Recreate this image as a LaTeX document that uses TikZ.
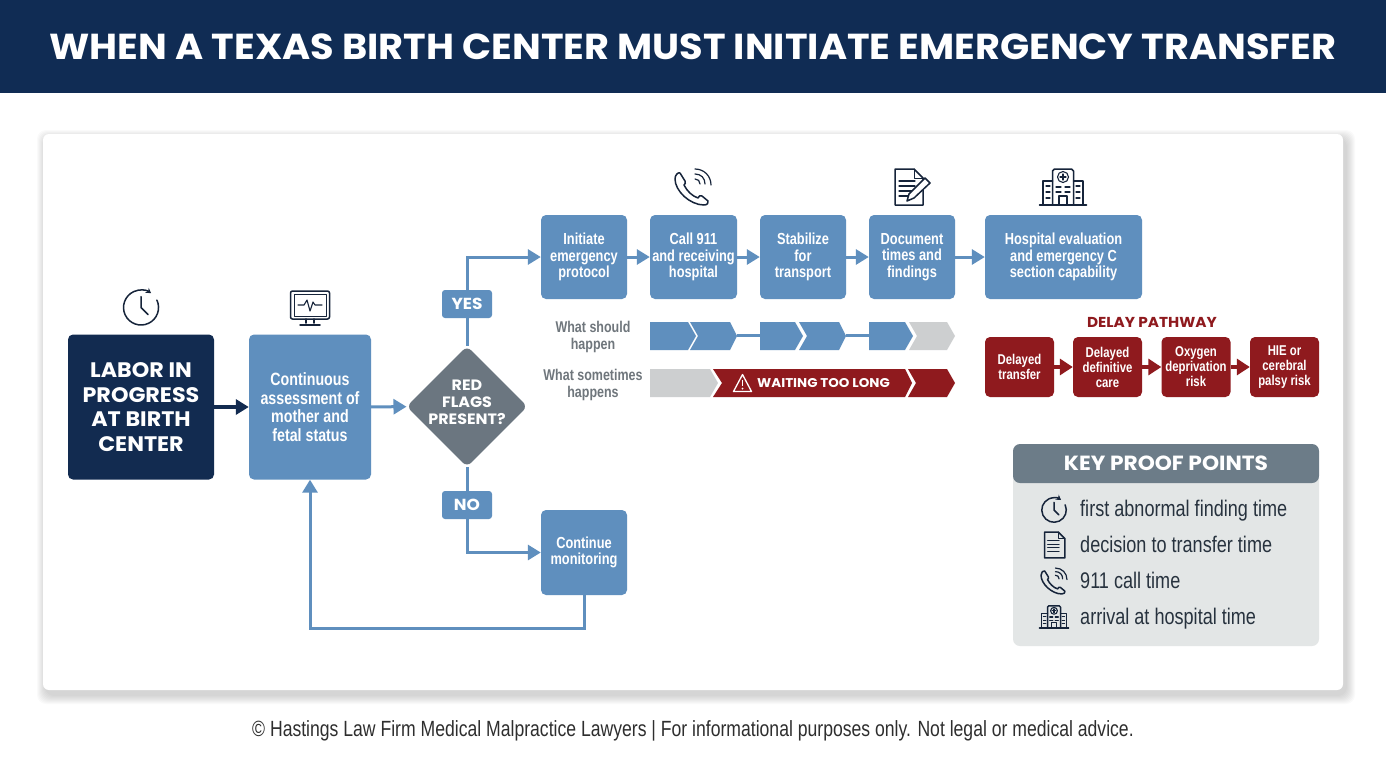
\documentclass[tikz,border=0pt]{standalone}
\usepackage{fontspec}
\setmainfont{Liberation Sans}[FakeStretch=0.8]
\newfontfamily\headfont{Poppins}[FakeStretch=1.06]
\usetikzlibrary{arrows.meta, shapes.geometric}

\definecolor{navybar}{HTML}{102C54}
\definecolor{navybox}{HTML}{122B50}
\definecolor{bluebox}{HTML}{5F8FBE}
\definecolor{slatebox}{HTML}{6B7680}
\definecolor{redbox}{HTML}{8F1A1E}
\definecolor{greychev}{HTML}{CDCFD0}
\definecolor{panelhead}{HTML}{6C7C88}
\definecolor{panelbody}{HTML}{E3E6E6}
\definecolor{inkdark}{HTML}{16243A}
\definecolor{labelgrey}{HTML}{6F767C}
\definecolor{prooftext}{HTML}{27323E}
\definecolor{footertext}{HTML}{2E2E2E}

\tikzset{
  flowbox/.style={rectangle, rounded corners=5pt, inner sep=0pt, align=center, text=white, font=\bfseries},
  stepbox/.style={flowbox, fill=bluebox, minimum height=84pt, font=\bfseries\fontsize{16}{16.7}\selectfont},
  delaybox/.style={flowbox, fill=redbox, minimum width=69pt, minimum height=60pt, font=\bfseries\fontsize{14.2}{15}\selectfont},
  tagbox/.style={rectangle, rounded corners=3pt, fill=bluebox, text=white, inner sep=0pt,
    minimum width=50pt, minimum height=28pt, font=\headfont\bfseries\fontsize{16}{18}\selectfont},
  sidelabel/.style={align=center, inner sep=0pt, text=labelgrey, font=\bfseries\fontsize{15.6}{17}\selectfont},
  prooflabel/.style={anchor=west, inner sep=0pt, text height=16pt, text depth=5pt, text=prooftext, font=\fontsize{22.6}{24}\selectfont},
  bluearrow/.style={draw=bluebox, line width=3pt, -{Triangle[length=13pt,width=15pt]}},
  bluelink/.style={draw=bluebox, line width=3pt},
  redarrow/.style={draw=redbox, line width=4pt, -{Triangle[length=13pt,width=16pt]}},
  iconline/.style={draw=inkdark, line width=1.5pt, line join=round, line cap=round},
  clockicon/.pic={
    \draw[iconline, -{Stealth[length=5pt,width=6pt]}]
      (15.9,-7.4) arc[start angle=-25, end angle=305, radius=17.5];
    \draw[iconline] (0,-11) -- (0,0) -- (7,7);
  },
  monitoricon/.pic={
    \draw[iconline, rounded corners=2pt] (-19.5,-17) rectangle (19.5,11);
    \draw[iconline, line width=1pt] (-16,-13.5) rectangle (16,8);
    \draw[iconline, line width=1.1pt] (-12,-3) -- (-6,-3) -- (-3,-8) -- (0,3) -- (3,-6) -- (5,-3) -- (12,-3);
    \draw[iconline] (-4,11) -- (-4,15) (4,11) -- (4,15) (-10,17) -- (10,17);
  },
  phoneicon/.pic={
    \draw[iconline]
      (-13,-14) -- (-8,-6) .. controls (-7,-4) and (-8,-3) .. (-9,-2)
      .. controls (-6,4) and (-1,9) .. (5,11) .. controls (6,9) and (7,8) .. (9,9)
      -- (15,14) .. controls (16,16) and (14,18) .. (11,18)
      .. controls (-3,18) and (-18,4) .. (-18,-8) .. controls (-18,-12) and (-15,-15) .. (-13,-14) -- cycle;
    \draw[iconline, line width=1.2pt] (2,-8) .. controls (5,-8) and (7,-6) .. (7,-3);
    \draw[iconline, line width=1.2pt] (2,-13) .. controls (8,-13) and (12,-9) .. (12,-3);
    \draw[iconline, line width=1.2pt] (2,-18) .. controls (11,-18) and (18,-11) .. (18,-2);
  },
  docicon/.pic={
    \draw[iconline] (-13,-18) -- (6,-18) -- (15,-9) -- (15,18) -- (-13,18) -- cycle;
    \draw[iconline, line width=1pt] (6,-18) -- (6,-9) -- (15,-9);
    \foreach \ly in {-6,-1,4,9}
      \draw[iconline, line width=1.1pt] (-9,\ly) -- (7,\ly);
  },
  penicon/.pic={
    \draw[iconline, fill=white] (17,-9) -- (22,-4) -- (6,11) -- (-1,14) -- (1,7) -- cycle;
  },
  hospitalicon/.pic={
    \draw[iconline] (-10.5,18) -- (-10.5,-16) -- (-8.5,-18) -- (8.5,-18) -- (10.5,-16) -- (10.5,18);
    \draw[iconline] (-10.5,-6) -- (-20,-6) -- (-20,18) (10.5,-6) -- (20,-6) -- (20,18);
    \draw[iconline] (-23.5,18) -- (23.5,18);
    \draw[iconline, line width=1.1pt] (0,-10) circle[radius=5.5];
    \draw[iconline, line width=1.1pt] (-3,-10) -- (3,-10) (0,-13) -- (0,-7);
    \draw[iconline, line width=1.1pt] (-4,18) -- (-4,9) -- (4,9) -- (4,18);
    \foreach \ly in {0,5}
      \draw[iconline, line width=1.1pt] (-7,\ly) -- (-2,\ly) (2,\ly) -- (7,\ly);
    \foreach \ly in {-1,5,11} {
      \draw[iconline, line width=1.1pt] (-17,\ly) -- (-13,\ly);
      \draw[iconline, line width=1.1pt] (13,\ly) -- (17,\ly);
    }
  },
}

\begin{document}
\begin{tikzpicture}[x=1pt, y=-1pt]
  \useasboundingbox (0,0) rectangle (1386,756);

  % Title bar
  \fill[navybar] (0,0) rectangle (1386,92.5);
  \node (title) at (693,46.5) [inner sep=0pt, text=white, font=\headfont\bfseries\fontsize{36.1}{38}\selectfont]
    {WHEN A TEXAS BIRTH CENTER MUST INITIATE EMERGENCY TRANSFER};

  % Card with soft shadow
  \foreach \s in {1,...,9}
    \fill[black, opacity=0.02, rounded corners=9pt]
      (43+3-\s,134+5-\s) rectangle (1343+3+\s,690+5+\s);
  \fill[white, rounded corners=6pt] (43,134) rectangle (1343,690);

  % Left column
  \node (labor) at (141,407) [flowbox, fill=navybox, minimum width=146pt, minimum height=145pt,
    font=\headfont\bfseries\fontsize{21}{24.7}\selectfont] {LABOR IN\\PROGRESS\\AT BIRTH\\CENTER};
  \node (assess) at (310,407) [flowbox, fill=bluebox, minimum width=122pt, minimum height=145pt,
    font=\bfseries\fontsize{17.8}{18.6}\selectfont] {Continuous\\assessment of\\mother and\\fetal status};
  \node (flags) at (467,406.5) [diamond, aspect=1, rounded corners=6pt, fill=slatebox, inner sep=-8pt,
    minimum width=121pt, minimum height=121pt, align=center, text=white, text depth=8pt,
    font=\headfont\bfseries\fontsize{15}{17.2}\selectfont] {RED\\FLAGS\\PRESENT?};
  \node (yes) at (467,304) [tagbox] {YES};
  \node (no) at (467,505) [tagbox] {NO};
  \node (continue) at (584,552.5) [stepbox, minimum width=86pt, minimum height=85pt] {Continue\\monitoring};
  \coordinate (loopturn) at (584,628);

  % Top row
  \node (initiate) at (584,257) [stepbox, minimum width=86pt] {Initiate\\emergency\\protocol};
  \node (call) at (693.5,257) [stepbox, minimum width=87pt] {Call 911\\and receiving\\hospital};
  \node (stabilize) at (803,257) [stepbox, minimum width=86pt] {Stabilize\\for\\transport};
  \node (document) at (912,257) [stepbox, minimum width=86pt] {Document\\times and\\findings};
  \node (hospital) at (1063.5,257) [stepbox, minimum width=157pt] {Hospital evaluation\\and emergency C\\section capability};

  % Connectors
  \draw[draw=navybox, line width=3.5pt, -{Triangle[length=13pt,width=15pt]}] (labor) -- (assess);
  \draw[bluearrow] (assess) -- (flags);
  \draw[bluelink] (flags) -- (yes);
  \draw[bluelink] (flags) -- (no);
  \draw[bluearrow] (yes.north) |- (initiate.west);
  \draw[bluearrow] (no.south) |- (continue.west);
  \draw[bluearrow] (initiate) -- (call);
  \draw[bluearrow] (call) -- (stabilize);
  \draw[bluearrow] (stabilize) -- (document);
  \draw[bluearrow] (document) -- (hospital);
  \draw[bluearrow] (continue.south) -- (loopturn) -| (assess.south);

  % Icons
  \pic (clocktop) at (141,307.5) {clockicon};
  \pic (monitortop) at (310,308) {monitoricon};
  \pic (phonetop) at (693,187) {phoneicon};
  \pic (doctop) at (908,187) {docicon};
  \pic (pentop) at (908,187) {penicon};
  \pic (hospitaltop) at (1063,187) {hospitalicon};

  % What should happen
  \node (shouldlabel) at (593,337) [sidelabel] {What should\\happen};
  \fill[bluebox] (650,322) -- (688,322) -- (696,336) -- (688,350) -- (650,350) -- cycle;
  \fill[bluebox] (690,322) -- (730,322) -- (737,336) -- (730,350) -- (690,350) -- (698,336) -- cycle;
  \fill[bluebox] (760,322) -- (795,322) -- (803,336) -- (795,350) -- (760,350) -- cycle;
  \fill[bluebox] (799,322) -- (839,322) -- (846,336) -- (839,350) -- (799,350) -- (807,336) -- cycle;
  \fill[bluebox] (869,322) -- (905,322) -- (913,336) -- (905,350) -- (869,350) -- cycle;
  \fill[greychev] (909,322) -- (947,322) -- (955,336) -- (947,350) -- (909,350) -- (917,336) -- cycle;
  \coordinate (linka) at (737,335.5);
  \coordinate (linkb) at (760,335.5);
  \coordinate (linkc) at (846,335.5);
  \coordinate (linkd) at (869,335.5);
  \draw[bluebox, line width=3pt] (linka) -- (linkb);
  \draw[bluebox, line width=3pt] (linkc) -- (linkd);

  % What sometimes happens
  \node (sometimeslabel) at (593,385) [sidelabel] {What sometimes\\happens};
  \fill[greychev] (650,369) -- (710,369) -- (718,383) -- (710,397) -- (650,397) -- cycle;
  \fill[redbox] (713,369) -- (905,369) -- (912,383) -- (905,397) -- (713,397) -- (722,383) -- cycle;
  \fill[redbox] (908,369) -- (947,369) -- (955,383) -- (947,397) -- (908,397) -- (916,383) -- cycle;
  \draw[white, line width=1.3pt, line join=round] (742.5,374.5) -- (751.5,391.5) -- (733.5,391.5) -- cycle;
  \draw[white, line width=1.5pt] (742.5,380) -- (742.5,386);
  \fill[white] (742.5,388.6) circle[radius=1];
  \node (waiting) at (823.5,383) [inner sep=0pt, text=white, font=\headfont\bfseries\fontsize{12.7}{15}\selectfont] {WAITING TOO LONG};

  % Delay pathway
  \node (delaytitle) at (1152,322) [inner sep=0pt, text=redbox, font=\headfont\bfseries\fontsize{14.4}{15}\selectfont] {DELAY PATHWAY};
  \node (delayed) at (1019.5,367) [delaybox] {Delayed\\transfer};
  \node (definitive) at (1107.5,367) [delaybox] {Delayed\\definitive\\care};
  \node (oxygen) at (1196,367) [delaybox] {Oxygen\\deprivation\\risk};
  \node (palsy) at (1284.5,367) [delaybox] {HIE or\\cerebral\\palsy risk};
  \draw[redarrow] (delayed) -- (definitive);
  \draw[redarrow] (definitive) -- (oxygen);
  \draw[redarrow] (oxygen) -- (palsy);

  % Key proof points
  \fill[panelbody, rounded corners=7pt] (1013,470) rectangle (1319,646);
  \fill[panelhead, rounded corners=7pt] (1013,483) -- (1013,444) -- (1319,444) -- (1319,483) -- cycle;
  \node (prooftitle) at (1166,463.5) [inner sep=0pt, text=white, font=\headfont\bfseries\fontsize{20.5}{22}\selectfont] {KEY PROOF POINTS};
  \pic[scale=0.7] (clockkey) at (1054,510) {clockicon};
  \pic[scale=0.72] (dockey) at (1054,545) {docicon};
  \pic[scale=0.72] (phonekey) at (1054,581) {phoneicon};
  \pic[scale=0.62] (hospitalkey) at (1054,617) {hospitalicon};
  \node (proofa) at (1080,511) [prooflabel] {first abnormal finding time};
  \node (proofb) at (1080,547) [prooflabel] {decision to transfer time};
  \node (proofc) at (1080,583) [prooflabel] {911 call time};
  \node (proofd) at (1080,619) [prooflabel] {arrival at hospital time};

  % Footer
  \node (footer) at (693,731) [inner sep=0pt, text=footertext, font=\fontsize{22}{24}\selectfont]
    {© Hastings Law Firm Medical Malpractice Lawyers | For informational purposes only. Not legal or medical advice.};
\end{tikzpicture}
\end{document}
